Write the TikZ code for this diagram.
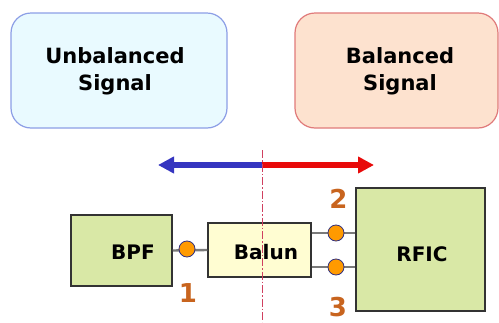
\documentclass[tikz,border=0pt]{standalone}
\usepackage{fontspec}
\setmainfont{DejaVu Sans}
\usetikzlibrary{arrows.meta}
\definecolor{ubfill}{HTML}{E9FAFF}
\definecolor{ubdraw}{HTML}{8C9EE6}
\definecolor{bfill}{HTML}{FDE2CF}
\definecolor{bdraw}{HTML}{E07A7A}
\definecolor{gfill}{HTML}{D9E8A6}
\definecolor{yfill}{HTML}{FFFDD2}
\definecolor{boxline}{HTML}{333333}
\definecolor{numcol}{HTML}{C8641E}
\definecolor{dotfill}{HTML}{FF9A00}
\definecolor{dotline}{HTML}{303080}
\definecolor{bluearr}{HTML}{3535C0}
\definecolor{redarr}{HTML}{E80A0A}
\definecolor{dashcol}{HTML}{D04060}
\definecolor{wire}{HTML}{7A7A7A}
\begin{document}
\begin{tikzpicture}[x=1pt,y=-1pt,
  sig/.style={rounded corners=20pt, line width=1.2pt},
  sigtext/.style={align=center, inner sep=0pt, font=\bfseries\fontsize{21}{27}\selectfont},
  blk/.style={draw=boxline, line width=1.5pt, inner sep=0pt},
  blktext/.style={inner sep=0pt, font=\bfseries\fontsize{20}{24}\selectfont},
  num/.style={text=numcol, font=\bfseries\fontsize{26}{30}\selectfont, inner sep=0pt},
  port/.style={circle, draw=dotline, fill=dotfill, line width=0.8pt, minimum size=16pt, inner sep=0pt},
  wr/.style={draw=wire, line width=2.4pt}]
\useasboundingbox (0,0) rectangle (499,322);
% signal boxes
\draw[sig, fill=ubfill, draw=ubdraw] (11,13) rectangle (227,128);
\node[sigtext] (ub) at (115,71) {Unbalanced\\Signal};
\draw[sig, fill=bfill, draw=bdraw] (295,13) rectangle (498,128);
\node[sigtext] (bal) at (400,71) {Balanced\\Signal};
% arrows
\coordinate (mid) at (262,165);
\coordinate (lt) at (158,165);
\coordinate (rt) at (374,165);
\draw[bluearr, line width=5.5pt, -{Triangle[length=16pt,width=16pt]}] (mid) -- (lt);
\draw[redarr, line width=5.5pt, -{Triangle[length=16pt,width=16pt]}] (mid) -- (rt);
% blocks
\node[blk, fill=gfill, minimum width=101pt, minimum height=71pt] (bpf) at (121.5,250.5) {};
\node[blk, fill=yfill, minimum width=103pt, minimum height=54pt] (balun) at (259.5,250) {};
\node[blk, fill=gfill, minimum width=129pt, minimum height=123pt] (rfic) at (420.5,249.5) {};
\node[blktext] (tbpf) at (133,252) {BPF};
\node[blktext] (tbalun) at (266,252) {Balun};
\node[blktext] (trfic) at (422,254) {RFIC};
% wires
\coordinate (w3a) at (balun.east |- 0,233);
\coordinate (w3b) at (rfic.west |- 0,233);
\coordinate (w4a) at (balun.east |- 0,267);
\coordinate (w4b) at (rfic.west |- 0,267);
\draw[wr] (bpf.east) -- (balun.west);
\draw[wr] (w3a) -- (w3b);
\draw[wr] (w4a) -- (w4b);
\node[port] (p1) at (187,249) {};
\node[port] (p2) at (336,233) {};
\node[port] (p3) at (336,267) {};
\node[num] (n1) at (188,293) {1};
\node[num] (n2) at (338.5,198.5) {2};
\node[num] (n3) at (338,307) {3};
% dashed divider
\coordinate (dtop) at (262,150);
\coordinate (dbot) at (262,322);
\draw[dashcol, line width=1pt, dash pattern=on 8pt off 2pt on 1.5pt off 2pt] (dtop) -- (dbot);
\end{tikzpicture}
\end{document}
